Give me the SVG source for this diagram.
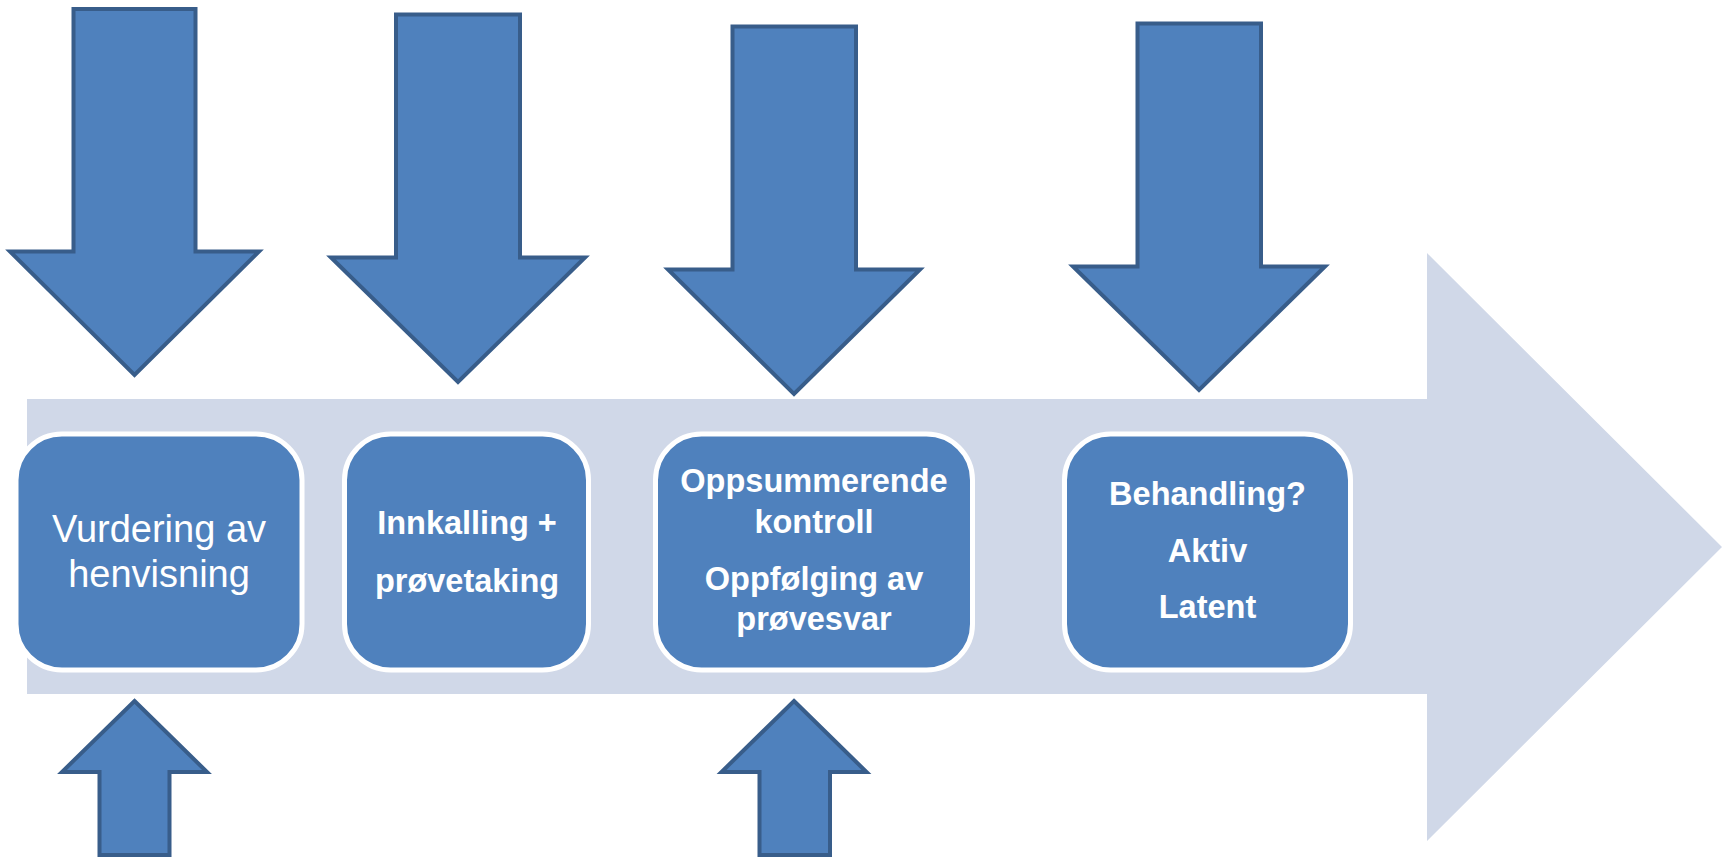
<svg xmlns="http://www.w3.org/2000/svg" width="1723" height="858" viewBox="0 0 1723 858">
<style>
.arrow{fill:#4F81BD;stroke:#385D8A;stroke-width:4;stroke-linejoin:miter}
.box{fill:#4F81BD;stroke:#FFFFFF;stroke-width:5}
.t{fill:#FFFFFF;font-family:"Liberation Sans",Arial,sans-serif;text-anchor:middle}
.reg{font-size:38px}
.bold{font-size:32.5px;font-weight:bold}
</style>
<rect width="1723" height="858" fill="#FFFFFF"/>
<g id="band">
<polygon points="27,399 1427,399 1427,253 1722,547 1427,841 1427,694 27,694" fill="#D0D8E8"/>
</g>
<g id="connectors">
<polygon class="arrow" points="73.5,9 195.5,9 195.5,251.5 259,251.5 134.5,375 10,251.5 73.5,251.5"/>
<polygon class="arrow" points="396,14.5 520,14.5 520,257.5 585,257.5 458,382 331,257.5 396,257.5"/>
<polygon class="arrow" points="732.5,26.5 856,26.5 856,269.5 920,269.5 794,394 668,269.5 732.5,269.5"/>
<polygon class="arrow" points="1137.5,23.5 1261,23.5 1261,266.5 1325,266.5 1199,390 1073,266.5 1137.5,266.5"/>
<polygon class="arrow" points="134.5,701 207,772 169.5,772 169.5,855 99.5,855 99.5,772 62,772"/>
<polygon class="arrow" points="794,701 866.5,772 830,772 830,855 759.5,855 759.5,772 721.5,772"/>
</g>
<g id="node1">
<rect class="box" x="16" y="434" width="286" height="236" rx="46" ry="46"/>
<text class="t reg" x="159" y="542">Vurdering av</text>
<text class="t reg" x="159" y="587">henvisning</text>
</g>
<g id="node2">
<rect class="box" x="344.5" y="434" width="244" height="236" rx="46" ry="46"/>
<text class="t bold" x="467" y="534">Innkalling +</text>
<text class="t bold" x="467" y="591.5">prøvetaking</text>
</g>
<g id="node3">
<rect class="box" x="655.5" y="434" width="317" height="236" rx="46" ry="46"/>
<text class="t bold" x="814" y="491.5">Oppsummerende</text>
<text class="t bold" x="814" y="533">kontroll</text>
<text class="t bold" x="814" y="590">Oppfølging av</text>
<text class="t bold" x="814" y="630">prøvesvar</text>
</g>
<g id="node4">
<rect class="box" x="1064.5" y="434" width="286" height="236" rx="46" ry="46"/>
<text class="t bold" x="1207.5" y="505">Behandling?</text>
<text class="t bold" x="1207.5" y="561.5">Aktiv</text>
<text class="t bold" x="1207.5" y="618">Latent</text>
</g>
</svg>
